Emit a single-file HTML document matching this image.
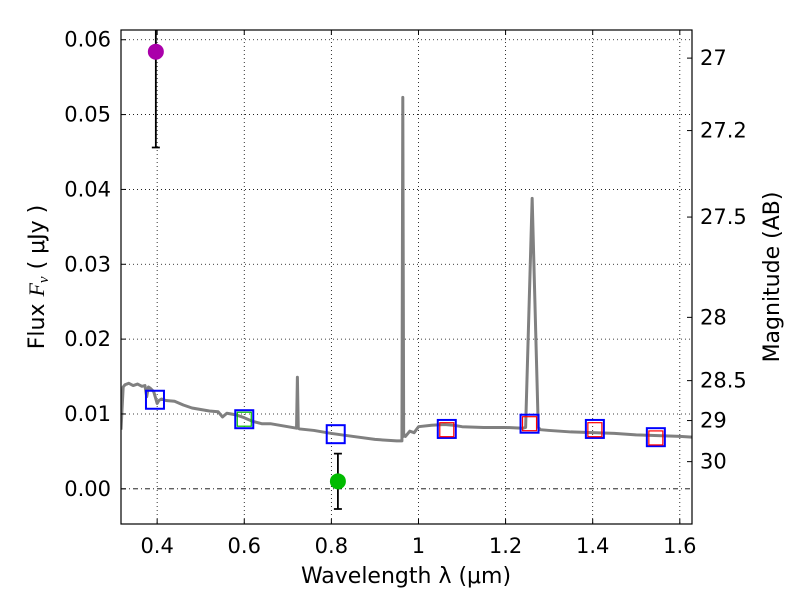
<!DOCTYPE html>
<html><head><meta charset="utf-8"><style>
body{margin:0;background:#fff}
text{font-family:"DejaVu Sans","Liberation Sans",sans-serif;fill:#000}
</style></head><body>
<svg id="chart" width="800" height="600" xmlns="http://www.w3.org/2000/svg">
<defs><clipPath id="pc"><rect x="121" y="30" width="571" height="494"/></clipPath></defs>
<rect width="800" height="600" fill="#fff"/>
<g id="grid"></g>
<g id="marks" clip-path="url(#pc)"></g>
<rect x="121" y="30" width="571" height="494" fill="none" stroke="#000" stroke-width="1.2"/>
<g id="axes"></g>
<text x="406" y="583" font-size="22" text-anchor="middle">Wavelength  λ (μm)</text>
<text transform="translate(44,277) rotate(-90)" font-size="22" text-anchor="middle">Flux  <tspan font-style="italic" font-family="Liberation Serif">F</tspan><tspan font-style="italic" font-size="15" dy="4" font-family="Liberation Serif">ν</tspan><tspan dy="-4">  ( μJy )</tspan></text>
<text transform="translate(779,277) rotate(-90)" font-size="22" text-anchor="middle">Magnitude (AB)</text>
</svg>
<script>
const xTicks=[0.4,0.6,0.8,1.0,1.2,1.4,1.6];
const xTickLabels=["0.4","0.6","0.8","1","1.2","1.4","1.6"];
const yTicks=[0,0.01,0.02,0.03,0.04,0.05,0.06];
const yTickLabels=["0.00","0.01","0.02","0.03","0.04","0.05","0.06"];
const magTicks=[27,27.2,27.5,28,28.5,29,30];
const magTickLabels=["27","27.2","27.5","28","28.5","29","30"];
const specWave=[0.317,0.322,0.326,0.335,0.345,0.355,0.365,0.372,0.376,0.380,0.385,0.392,0.400,0.404,0.41,0.42,0.44,0.46,0.48,0.50,0.52,0.54,0.55,0.56,0.58,0.60,0.62,0.64,0.66,0.70,0.72,0.722,0.724,0.727,0.76,0.80,0.85,0.90,0.95,0.962,0.964,0.966,0.968,0.970,0.98,0.99,1.00,1.03,1.06,1.08,1.10,1.15,1.20,1.24,1.246,1.261,1.275,1.28,1.30,1.35,1.40,1.45,1.50,1.55,1.60,1.628];
const specFlux=[0.0079,0.0136,0.0139,0.0141,0.0138,0.0140,0.0137,0.0138,0.0123,0.0136,0.0134,0.0130,0.0114,0.0118,0.0120,0.0118,0.0117,0.0112,0.0108,0.0106,0.0104,0.0103,0.0096,0.0101,0.0099,0.0095,0.0090,0.0087,0.0087,0.0083,0.0081,0.0149,0.0081,0.0080,0.0078,0.0074,0.0070,0.0066,0.0064,0.0064,0.0523,0.0070,0.0072,0.0070,0.0077,0.0075,0.0083,0.0085,0.0086,0.0085,0.0083,0.0082,0.0082,0.0081,0.0082,0.0388,0.0082,0.0079,0.0078,0.0076,0.0075,0.0074,0.0072,0.0071,0.0070,0.0069];
const blueWave=[0.395,0.60,0.81,1.065,1.255,1.405,1.545];
const blueFlux=[0.0119,0.0093,0.0073,0.0080,0.0087,0.0080,0.0069];
const redWave=[1.065,1.255,1.405,1.545];
const redFlux=[0.0079,0.0087,0.0079,0.0068];
const greenSqWave=[0.60];
const greenSqFlux=[0.0093];
const ptWave=[0.397,0.815];
const ptFlux=[0.0584,0.0010];
const ptErrLo=[0.0128,0.0037];
const ptErrHi=[0.0128,0.0037];
const ptColor=["#aa00aa","#00bb00"];

const X0=121,X1=692,Y0=30,Y1=524,xmin=0.317,xmax=1.628,ymin=-0.0047,ymax=0.0613;
const sx=v=>X0+(v-xmin)/(xmax-xmin)*(X1-X0);
const sy=v=>Y1-(v-ymin)/(ymax-ymin)*(Y1-Y0);
const mag2flux=m=>Math.pow(10,(23.9-m)/2.5);
const NS="http://www.w3.org/2000/svg";
function mk(p,tag,a){const e=document.createElementNS(NS,tag);for(const k in a)e.setAttribute(k,a[k]);p.appendChild(e);return e;}
const grid=document.getElementById('grid'),marks=document.getElementById('marks'),axes=document.getElementById('axes');
xTicks.forEach((t,i)=>{const x=sx(t);
 const g=mk(grid,'line',{x1:x,x2:x,y1:Y0,y2:Y1,stroke:'#000','stroke-width':0.8,'stroke-dasharray':'1,3'});
 
 
 mk(axes,'line',{x1:x,x2:x,y1:Y1,y2:Y1-5,stroke:'#000'});
 mk(axes,'line',{x1:x,x2:x,y1:Y0,y2:Y0+5,stroke:'#000'});
 const l=mk(axes,'text',{x:x,y:553,'font-size':21,'text-anchor':'middle'});l.textContent=xTickLabels[i];
 
 });
yTicks.forEach((t,i)=>{const y=sy(t);
 const g=mk(grid,'line',{x1:X0,x2:X1,y1:y,y2:y,stroke:'#000','stroke-width':0.8,'stroke-dasharray':t===0?'5,3,1,3':'1,3'});
 
 
 mk(axes,'line',{x1:X0,x2:X0+5,y1:y,y2:y,stroke:'#000'});
 const l=mk(axes,'text',{x:111,y:y+7,'font-size':21,'text-anchor':'end'});l.textContent=yTickLabels[i];
 
 });
magTicks.forEach((m,i)=>{const y=sy(mag2flux(m));
 mk(axes,'line',{x1:X1-5,x2:X1,y1:y,y2:y,stroke:'#000'});
 const l=mk(axes,'text',{x:700,y:y+7,'font-size':21});l.textContent=magTickLabels[i];
 
 });
const sp=mk(marks,'polyline',{points:specWave.map((w,i)=>sx(w)+','+sy(specFlux[i])).join(' '),fill:'none',stroke:'#808080','stroke-width':3,'stroke-linejoin':'round'});


blueWave.forEach((w,i)=>{const r=mk(marks,'rect',{x:sx(w)-9,y:sy(blueFlux[i])-9,width:18,height:18,fill:'none',stroke:'#0000ff','stroke-width':2});
 
 });
redWave.forEach((w,i)=>{const r=mk(marks,'rect',{x:sx(w)-7,y:sy(redFlux[i])-7,width:14,height:14,fill:'none',stroke:'#ff0000','stroke-width':1.2});
 
 });
greenSqWave.forEach((w,i)=>{const r=mk(marks,'rect',{x:sx(w)-7,y:sy(greenSqFlux[i])-7,width:14,height:14,fill:'none',stroke:'#00bb00','stroke-width':1.2});
 
 });
ptWave.forEach((w,i)=>{const x=sx(w),yl=sy(ptFlux[i]-ptErrLo[i]),yh=sy(ptFlux[i]+ptErrHi[i]);
 const e=mk(marks,'path',{d:`M${x},${yl}V${yh}M${x-4},${yl}H${x+4}M${x-4},${yh}H${x+4}`,stroke:'#000','stroke-width':1.8,fill:'none'});
 
 
 const c=mk(marks,'circle',{cx:x,cy:sy(ptFlux[i]),r:8,fill:ptColor[i]});
 
 });
</script>
</body></html>
